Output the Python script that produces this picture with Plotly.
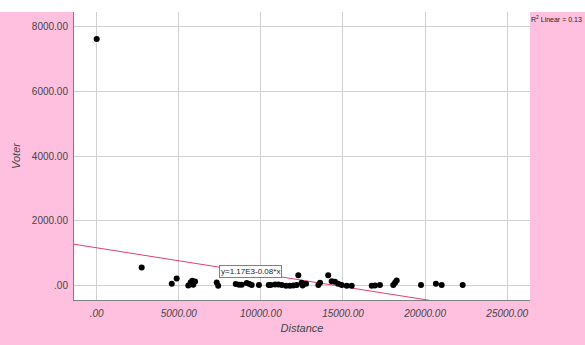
import plotly.graph_objects as go

# Distance vs. voter counts
distance = [0, 2740, 4570, 4870, 5580, 5720, 5820, 5880, 5990, 7310, 7400,
            8470, 8670, 8830, 9140, 9300, 9440, 9880, 10480, 10600, 10860,
            11060, 11270, 11530, 11770, 11970, 12180, 12280, 12480, 12540,
            12750, 13500, 13600, 14100, 14310, 14510, 14710, 14920, 15230,
            15530, 16750, 16950, 17250, 18060, 18170, 18270, 19750, 20660,
            21010, 22290]
voter = [7620, 560, 60, 220, 10, 100, 150, 30, 130, 100, 0,
         50, 30, 30, 80, 50, 20, 20, 20, 20, 40,
         40, 20, 0, 0, 10, 20, 320, 90, 10,
         60, 20, 90, 320, 140, 120, 60, 20, 0,
         0, 0, 10, 20, 20, 90, 160, 20, 60,
         20, 20]

# Linear fit reported as y = 1.17E3 - 0.08*x, R^2 = 0.13
intercept = 1170
slope = -0.08
r_squared = 0.13

x_ticks = [0, 5000, 10000, 15000, 20000, 25000]
x_tick_text = [".00", "5000.00", "10000.00", "15000.00", "20000.00", "25000.00"]
y_ticks = [0, 2000, 4000, 6000, 8000]
y_tick_text = [".00", "2000.00", "4000.00", "6000.00", "8000.00"]

x_range = [-1382, 26389]
y_range = [-441, 8450]

PINK = "#FFC0E0"
FONT = "Liberation Sans, Arial, sans-serif"

fig = go.Figure()

# Fit line spanning the full x range
line_x = x_range
line_y = [intercept + slope * v for v in line_x]
fig.add_trace(go.Scatter(x=line_x, y=line_y, mode="lines",
                         line=dict(color="#E0406E", width=1),
                         hoverinfo="skip", showlegend=False))

fig.add_trace(go.Scatter(x=distance, y=voter, mode="markers",
                         marker=dict(color="black", size=6),
                         showlegend=False))

W, H = 585, 345
ml, mr, mt, mb = 74, 55, 12, 37
pw, ph = W - ml - mr, H - mt - mb

fig.update_layout(
    width=W, height=H,
    margin=dict(l=ml, r=mr, t=mt, b=mb, pad=0),
    paper_bgcolor=PINK,
    plot_bgcolor="white",
    font=dict(family=FONT, size=10, color="#333333"),
    shapes=[
        # white strip along the top edge of the page
        dict(type="rect", xref="paper", yref="paper",
             x0=-ml / pw - 0.01, x1=1 + mr / pw + 0.01,
             y0=1, y1=1 + mt / ph + 0.01,
             fillcolor="white", line=dict(width=0), layer="below"),
    ],
    annotations=[
        dict(x=9395, y=430, xref="x", yref="y",
             text="y=1.17E3-0.08*x", showarrow=False,
             font=dict(family=FONT, size=8, color="#222222"),
             bgcolor="white", bordercolor="#808080", borderwidth=1,
             borderpad=1, xanchor="center", yanchor="middle"),
        dict(x=1, y=1, xref="paper", yref="paper",
             text=f"R<sup>2</sup> Linear = {r_squared:.2f}", showarrow=False,
             font=dict(family=FONT, size=7, color="#222222"),
             xanchor="left", yanchor="top", xshift=-1, yshift=-1),
    ],
)

fig.update_xaxes(
    range=x_range, tickvals=x_ticks, ticktext=x_tick_text,
    tickfont=dict(family=FONT, size=10, color="#444444", style="italic"),
    showgrid=True, gridcolor="#D0D0D0", gridwidth=1,
    zeroline=False, showline=True, linecolor="#808080", linewidth=1,
    ticks="", ticklabelstandoff=4,
    title=dict(text="Distance", standoff=6,
               font=dict(family=FONT, size=11, color="#444444", style="italic")),
)
fig.update_yaxes(
    range=y_range, tickvals=y_ticks, ticktext=y_tick_text,
    tickfont=dict(family=FONT, size=10, color="#444444"),
    showgrid=True, gridcolor="#D0D0D0", gridwidth=1,
    zeroline=False, showline=True, linecolor="#808080", linewidth=1,
    ticks="", ticklabelstandoff=3,
    title=dict(text="Voter", standoff=8,
               font=dict(family=FONT, size=11, color="#444444", style="italic")),
)

fig.write_html("out.html")
